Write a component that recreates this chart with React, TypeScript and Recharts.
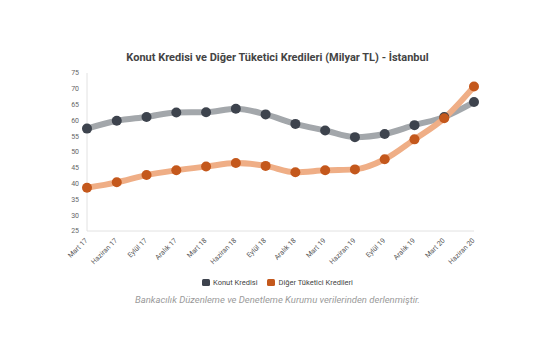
import { LineChart, Line, XAxis, YAxis } from "recharts";

const periods = [
  "Mart 17", "Haziran 17", "Eylül 17", "Aralık 17",
  "Mart 18", "Haziran 18", "Eylül 18", "Aralık 18",
  "Mart 19", "Haziran 19", "Eylül 19", "Aralık 19",
  "Mart 20", "Haziran 20",
];
const konut = [57.4, 59.9, 61.1, 62.5, 62.6, 63.7, 61.9, 58.9, 56.8, 54.7, 55.7, 58.5, 61.1, 65.8];
const diger = [38.7, 40.4, 42.7, 44.2, 45.4, 46.5, 45.6, 43.6, 44.2, 44.5, 47.7, 54.0, 60.7, 70.7];
const yTicks = [25, 30, 35, 40, 45, 50, 55, 60, 65, 70, 75];

const data = periods.map((p, i) => ({ period: p, konut: konut[i], diger: diger[i] }));

const legendItems = [
  { label: "Konut Kredisi", color: "#3d434d" },
  { label: "Diğer Tüketici Kredileri", color: "#c4581c" },
];

function XTick({ x, y, payload }: any) {
  return (
    <text
      x={x + 1}
      y={y + 2}
      textAnchor="end"
      fontSize={7}
      fill="#555"
      transform={`rotate(-45 ${x + 1} ${y + 2})`}
    >
      {payload.value}
    </text>
  );
}

function LegendBox() {
  return (
    <div style={{ position: "absolute", top: 278, left: 0, width: 555, display: "flex", justifyContent: "center", gap: 10, fontSize: 7.5, color: "#444" }}>
      {legendItems.map((it) => (
        <span key={it.label} style={{ display: "flex", alignItems: "center" }}>
          <span style={{ width: 8, height: 7, background: it.color, borderRadius: 1.5, marginRight: 3 }} />
          {it.label}
        </span>
      ))}
    </div>
  );
}

export default function App() {
  return (
    <div style={{ position: "absolute", left: 0, top: 0, width: 555, height: 355, background: "#fff", fontFamily: "Roboto, sans-serif" }}>
      <div style={{ position: "absolute", top: 51, left: 0, width: 555, textAlign: "center", fontSize: 11, fontWeight: 700, color: "#444" }}>
        Konut Kredisi ve Diğer Tüketici Kredileri (Milyar TL) - İstanbul
      </div>
      <LineChart width={555} height={355} data={data} margin={{ top: 73, right: 81, bottom: 60, left: 0 }}>
        <XAxis
          dataKey="period"
          tick={<XTick />}
          tickLine={false}
          axisLine={{ stroke: "#e2e2e2" }}
          interval={0}
          height={64}
        />
        <YAxis
          domain={[25, 75]}
          ticks={yTicks}
          width={87}
          tick={{ fontSize: 7, fill: "#666" }}
          tickLine={false}
          axisLine={{ stroke: "#e2e2e2" }}
        />
        <Line
          type="monotone"
          dataKey="konut"
          stroke="#a3a7ab"
          strokeWidth={6}
          dot={{ r: 5, fill: "#3d434d", stroke: "#3d434d", strokeWidth: 0 }}
          isAnimationActive={false}
        />
        <Line
          type="monotone"
          dataKey="diger"
          stroke="#efae86"
          strokeWidth={6}
          dot={{ r: 5, fill: "#c4581c", stroke: "#c4581c", strokeWidth: 0 }}
          isAnimationActive={false}
        />
      </LineChart>
      <LegendBox />
      <div style={{ position: "absolute", top: 294, left: 0, width: 555, textAlign: "center", fontSize: 9.5, fontStyle: "italic", color: "#9a9a9a" }}>
        Bankacılık Düzenleme ve Denetleme Kurumu verilerinden derlenmiştir.
      </div>
    </div>
  );
}
